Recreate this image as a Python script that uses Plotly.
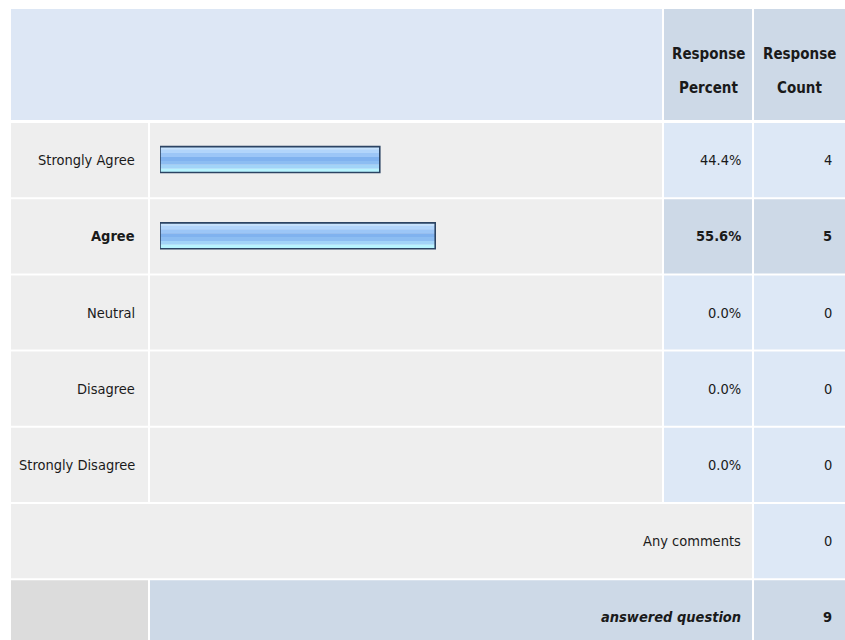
import plotly.graph_objects as go

# ---- data ----
categories = ["Strongly Agree", "Agree", "Neutral", "Disagree", "Strongly Disagree"]
percents = [44.4, 55.6, 0.0, 0.0, 0.0]
counts = [4, 5, 0, 0, 0]
header_labels = ["Response<br>Percent", "Response<br>Count"]
comments_label = "Any comments"
comments_count = 0
answered_label = "answered question"
answered_count = 9
highlight = "Agree"

# ---- layout constants (page pixels) ----
W, H = 845, 640
FONT = "Liberation Sans Narrow, Arial Narrow, DejaVu Sans Condensed, sans-serif"
FS = 14.5
TXT = "#1a1a1a"
C_HEAD = "#dde7f5"
C_HEAD_DARK = "#cdd9e7"
C_GRAY = "#eeeeee"
C_BLUE = "#dde8f6"
C_FOOT_GRAY = "#dcdcdc"

X_LBL = (11, 148)
X_BAR = (150, 662)
X_PCT = (664, 752)
X_CNT = (754, 845)
HEAD_Y = (9, 120)
ROW0 = 123
PITCH = 76.2
ROW_H = 74.2


def px(x):
    return x / W


def py(y):
    return 1 - y / H


shapes = []


def cell(x0, x1, y0, y1, color):
    shapes.append(dict(type="rect", xref="paper", yref="paper",
                       x0=px(x0), x1=px(x1), y0=py(y1), y1=py(y0),
                       fillcolor=color, line=dict(width=0), layer="below"))


annotations = []


def text(x, y, s, anchor="right", bold=False, italic=False, size=FS):
    if bold:
        s = "<b>" + s + "</b>"
    if italic:
        s = "<i>" + s + "</i>"
    annotations.append(dict(xref="paper", yref="paper", x=px(x), y=py(y), text=s,
                            showarrow=False, xanchor=anchor, yanchor="middle",
                            font=dict(family=FONT, size=size, color=TXT)))


# header
cell(X_LBL[0], X_BAR[1], *HEAD_Y, C_HEAD)
cell(X_PCT[0], X_PCT[1], *HEAD_Y, C_HEAD_DARK)
cell(X_CNT[0], X_CNT[1], *HEAD_Y, C_HEAD_DARK)
for lab, col in zip(header_labels, [X_PCT, X_CNT]):
    l1, l2 = lab.split("<br>")
    cx = (col[0] + col[1]) / 2
    text(cx, 54, l1, anchor="center", bold=True, size=15)
    text(cx, 88, l2, anchor="center", bold=True, size=15)

# answer rows
for i, (c, p, n) in enumerate(zip(categories, percents, counts)):
    y0 = ROW0 + PITCH * i
    y1 = y0 + ROW_H
    yc = (y0 + y1) / 2
    hl = c == highlight
    cell(X_LBL[0], X_LBL[1], y0, y1, C_GRAY)
    cell(X_BAR[0], X_BAR[1], y0, y1, C_GRAY)
    cell(X_PCT[0], X_PCT[1], y0, y1, C_HEAD_DARK if hl else C_BLUE)
    cell(X_CNT[0], X_CNT[1], y0, y1, C_HEAD_DARK if hl else C_BLUE)
    text(137, yc, c, bold=hl)
    text(743, yc, f"{p:.1f}%", bold=hl)
    text(834, yc, str(n), bold=hl)

# comments row
y0 = ROW0 + PITCH * len(categories)
y1 = y0 + ROW_H
cell(X_LBL[0], X_PCT[1], y0, y1, C_GRAY)
cell(X_CNT[0], X_CNT[1], y0, y1, C_BLUE)
text(743, (y0 + y1) / 2, comments_label)
text(834, (y0 + y1) / 2, str(comments_count))

# answered row
y0 = ROW0 + PITCH * (len(categories) + 1)
y1 = y0 + ROW_H
cell(X_LBL[0], X_LBL[1], y0, y1, C_FOOT_GRAY)
cell(X_BAR[0], X_PCT[1], y0, y1, C_HEAD_DARK)
cell(X_CNT[0], X_CNT[1], y0, y1, C_HEAD_DARK)
text(743, (y0 + y1) / 2, answered_label, bold=True, italic=True)
text(834, (y0 + y1) / 2, str(answered_count), bold=True)

# ---- bars (gradient simulated by stacked bands) ----
fig = go.Figure()
BW = 0.34
bands = [(0.00, 0.10, "#c6e3fe"), (0.10, 0.25, "#b2d5fb"), (0.25, 0.40, "#9cc6f7"),
         (0.40, 0.55, "#80b2ef"), (0.55, 0.70, "#8cbdf2"), (0.70, 0.85, "#a2d4f8"),
         (0.85, 1.00, "#b8f4ff")]
for a, b, col in bands:
    fig.add_trace(go.Bar(x=percents, y=categories, orientation="h",
                         xaxis="x2", yaxis="y2",
                         offset=-BW / 2 + a * BW, width=(b - a) * BW,
                         marker=dict(color=col, line=dict(width=0)),
                         hoverinfo="skip", showlegend=False))
fig.add_trace(go.Bar(x=percents, y=categories, orientation="h",
                     xaxis="x2", yaxis="y2", offset=-BW / 2, width=BW,
                     marker=dict(color="rgba(0,0,0,0)",
                                 line=dict(color="#2c4463",
                                           width=[1.6 if p > 0 else 0 for p in percents])),
                     hoverinfo="skip", showlegend=False))

y_top = ROW0 - 1.5
y_bot = ROW0 + PITCH * len(categories) - 1.5
fig.update_layout(
    width=W, height=H,
    margin=dict(l=0, r=0, t=0, b=0),
    paper_bgcolor="white", plot_bgcolor="rgba(0,0,0,0)",
    barmode="overlay",
    xaxis2=dict(domain=[px(160), px(655)], range=[0, 100], visible=False,
                anchor="y2", fixedrange=True),
    yaxis2=dict(domain=[py(y_bot), py(y_top)], type="category",
                categoryorder="array", categoryarray=categories,
                range=[len(categories) - 0.5, -0.5], visible=False,
                anchor="x2", fixedrange=True),
    shapes=shapes, annotations=annotations,
)
fig.write_html(
    "out.html",
    config={"displayModeBar": False},
    post_script="document.body.style.margin='0';document.body.style.overflow='hidden';",
)
